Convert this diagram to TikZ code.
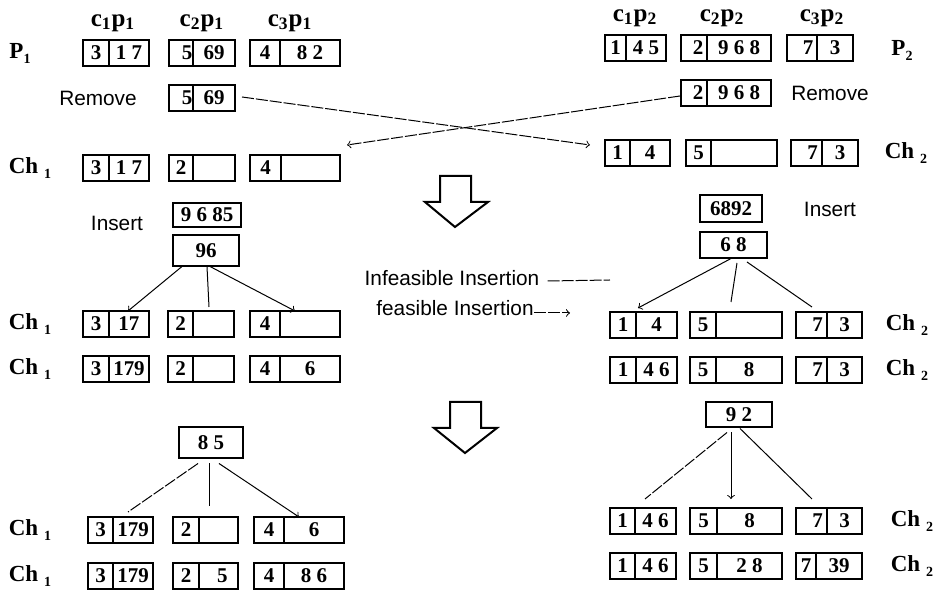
\documentclass[tikz,border=0pt]{standalone}
\usepackage{fontspec}
\setmainfont{Liberation Serif}
\setsansfont{Liberation Sans}
\usepackage{tikz}
\usetikzlibrary{calc}

\tikzset{
  gbox/.style={draw, line width=1pt, minimum height=13pt, inner sep=0pt, outer sep=0pt},
  sbox/.style={gbox, font=\fontsize{10.5}{12}\selectfont\bfseries},
  digits/.style={font=\fontsize{10.5}{12}\selectfont\bfseries, inner sep=0pt},
  divider/.style={line width=0.6pt},
  lab/.style={font=\fontsize{12.5}{14}\selectfont\bfseries, inner sep=0pt},
  chlab/.style={font=\fontsize{11.5}{13}\selectfont\bfseries, inner sep=0pt},
  word/.style={font=\fontsize{10.4}{12}\selectfont\sffamily, inner sep=0pt},
  link/.style={line width=0.5pt},
  xlink/.style={line width=0.5pt, dash pattern=on 6pt off 1pt},
  bigdown/.style={line width=1pt, fill=white, line join=miter}
}

% one chromosome part: name, left x, divider x, right x, y, left genes, right genes
\newcommand{\gene}[7]{%
  \node[gbox, minimum width={(#4-#2)*0.5pt}, anchor=west] (#1) at (#2,#5) {};
  \draw[divider] (#3,#5) ++(0,-13) -- ++(0,26);
  \node[digits] (#1l) at ({(#2+#3)/2},#5) {#6};
  \node[digits] (#1r) at ({(#3+#4)/2},#5) {#7};
}
% small subscript for the Ch and P labels
\newcommand{\lowsub}[1]{\raisebox{-2.5pt}{\fontsize{7}{8}\selectfont #1}}

\begin{document}
\begin{tikzpicture}[x=0.5pt,y=-0.5pt]
        \useasboundingbox (0,0) rectangle (939,592);

        % draw the column labels
        \foreach \n/\x/\y/\t in {
            lc1/113/23/c\textsubscript{1}p\textsubscript{1},
            lc2/202/23/c\textsubscript{2}p\textsubscript{1},
            lc3/290/23/c\textsubscript{3}p\textsubscript{1},
            rc1/635/18/c\textsubscript{1}p\textsubscript{2},
            rc2/722/18/c\textsubscript{2}p\textsubscript{2},
            rc3/822/18/c\textsubscript{3}p\textsubscript{2}}
                \node[lab] (\n) at (\x,\y) {\t};

        % draw the row labels
        \node[chlab] (lp1) at (20,53) {P\lowsub{1}};
        \node[chlab] (lp2) at (902,50) {P\lowsub{2}};
        \foreach \n/\x/\y/\k in {
            lch1/30/168/1, lch2/30/324/1, lch3/30/369/1, lch4/30/530/1, lch5/30/576/1,
            rch1/906/153/2, rch2/907/325/2, rch3/907/370/2, rch4/912/521/2, rch5/912/566/2}
                \node[chlab] (\n) at (\x,\y) {Ch\hspace{3pt}\lowsub{\k}};

        % draw the first parent and its children
        \foreach \n/\xl/\xd/\xr/\y/\l/\r in {
            pa1/83/109/149/53/3/1 7, pa2/169/193/235/53/{\hspace{6pt}5}/{69\hspace{9pt}}, pa3/250/280/340/53/4/8 2\hspace{6pt},
            ra/169/193/235/98/{\hspace{6pt}5}/{69\hspace{9pt}},
            c1a1/83/109/149/168/3/1 7, c1a2/169/193/235/168/{2\hspace{5pt}}/{}, c1a3/250/281/340/168/4/{},
            c1b1/83/109/149/324/3/17, c1b2/168/193/234/324/{2\hspace{5pt}}/{}, c1b3/250/280/340/324/4/{},
            c1c1/83/109/149/369/3/179, c1c2/168/193/234/369/{2\hspace{5pt}}/{}, c1c3/250/280/340/369/4/6,
            c1d1/88/113/153/530/3/179, c1d2/173/199/238/530/{2\hspace{5pt}}/{}, c1d3/254/284/344/530/4/6,
            c1e1/88/113/153/576/3/179, c1e2/173/199/238/576/{2\hspace{5pt}}/{\hspace{4pt}5}, c1e3/254/284/344/576/4/8 6}
                {\gene{\n}{\xl}{\xd}{\xr}{\y}{\l}{\r}}

        % draw the second parent and its children
        \foreach \n/\xl/\xd/\xr/\y/\l/\r in {
            pb1/605/626/666/48/1/4 5, pb2/681/707/771/48/{\hspace{4pt}2}/{9 6 8}, pb3/787/817/853/48/{\hspace{6pt}7}/{3\hspace{8pt}},
            rb/681/707/771/93/{\hspace{4pt}2}/{9 6 8},
            c2a1/605/630/670/153/1/4, c2a2/686/711/777/153/5/{}, c2a3/791/822/858/153/{\hspace{6pt}7}/{3\hspace{8pt}},
            c2b1/610/636/677/325/1/4, c2b2/690/716/782/325/5/{}, c2b3/796/827/862/325/{\hspace{6pt}7}/{3\hspace{8pt}},
            c2c1/610/636/677/370/1/4 6, c2c2/690/716/782/370/5/8, c2c3/796/827/862/370/{\hspace{6pt}7}/{3\hspace{8pt}},
            c2d1/610/635/676/521/1/4 6, c2d2/690/717/782/521/5/8, c2d3/796/827/862/521/{\hspace{6pt}7}/{3\hspace{8pt}},
            c2e1/610/635/676/566/1/4 6, c2e2/690/717/782/566/5/2 8, c2e3/796/816/862/566/7/39}
                {\gene{\n}{\xl}{\xd}{\xr}{\y}{\l}{\r}}

        % the words
        \node[word] (remA) at (98,98) {Remove};
        \node[word] (remB) at (830,93) {Remove};
        \node[word] (insA) at (117,223) {Insert};
        \node[word] (insB) at (830,209) {Insert};
        \node[word] (infeas) at (452,278) {Infeasible Insertion};
        \node[word] (feas) at (455,308) {feasible Insertion};

        % genes to be inserted
        \node[sbox, minimum width=34pt, minimum height=12pt] (ins1a) at (207,215) {9 6 85};
        \node[sbox, minimum width=33pt, minimum height=15.5pt] (ins1b) at (206,251) {96};
        \node[sbox, minimum width=32pt, minimum height=15.5pt] (b85) at (211,443) {8 5};
        \node[sbox, minimum width=31pt, minimum height=13.5pt] (ins2a) at (731,209) {6892};
        \node[sbox, minimum width=33.5pt, minimum height=13pt] (ins2b) at (733.5,245) {6 8};
        \node[sbox, minimum width=33pt, minimum height=12.5pt] (b92) at (739,415) {9 2};

        % the crossing of the removed parts
        \coordinate (toB) at (590,145);
        \coordinate (toA) at (347,145);
        \draw[xlink,->] ([xshift=3.5pt,yshift=0.5pt]ra.east) -- (toB);
        \draw[xlink,->] ([xshift=-0.5pt,yshift=-1.5pt]rb.west) -- (toA);

        % the legend lines
        \coordinate (infEnd) at (610,280);
        \coordinate (feasEnd) at (570,313);
        \draw[xlink] ([xshift=4pt,yshift=-1.5pt]infeas.east) -- (infEnd);
        \draw[xlink,->] ([yshift=-2.5pt]feas.east) -- (feasEnd);

        % draw the insertion tries
        \draw[link,->] ([xshift=-12pt]ins1b.south) -- ([xshift=6pt]c1b1.north);
        \draw[link] ([xshift=0.5pt]ins1b.south) -- ([xshift=4pt,yshift=2pt]c1b2.north);
        \draw[link,->] ([xshift=2pt]ins1b.south) -- (c1b3.north);

        \draw[xlink] ([xshift=-6.5pt,yshift=-2.5pt]b85.south) -- ([xshift=3.75pt,yshift=2.5pt]c1d1.north);
        \draw[link] ([xshift=-1pt,yshift=-2.5pt]b85.south) -- ([xshift=1.75pt,yshift=5.5pt]c1d2.north);
        \draw[link,->] ([xshift=4pt,yshift=-2.5pt]b85.south) -- (c1d3.north);

        \draw[link,->] ([xshift=-0.75pt]ins2b.south) -- ([xshift=-2.75pt,yshift=2pt]c2b1.north);
        \draw[link] ([xshift=1.75pt,yshift=-2.5pt]ins2b.south) -- ([xshift=-2.5pt,yshift=5pt]c2b2.north);
        \draw[link] ([xshift=6.75pt,yshift=-2pt]ins2b.south) -- ([xshift=-8.5pt,yshift=2.5pt]c2b3.north);

        \draw[xlink] ([xshift=-6pt,yshift=-2.5pt]b92.south) -- ([xshift=1pt,yshift=4.5pt]c2d1.north);
        \draw[link,->] ([xshift=-4pt,yshift=-2.5pt]b92.south) -- ([xshift=-2.5pt,yshift=4.5pt]c2d2.north);
        \draw[link] ([xshift=0.5pt,yshift=-0.5pt]b92.south) -- ([xshift=-8.5pt,yshift=4.5pt]c2d3.north);

        % the big arrows
        \draw[bigdown] (440,176) -- (471,176) -- (471,202) -- (488,202) -- (455,227)
              -- (425,202) -- (440,202) -- cycle;
        \draw[bigdown] (450,402) -- (481,402) -- (481,428) -- (497,428) -- (465,453)
              -- (434,428) -- (450,428) -- cycle;
\end{tikzpicture}
\end{document}
